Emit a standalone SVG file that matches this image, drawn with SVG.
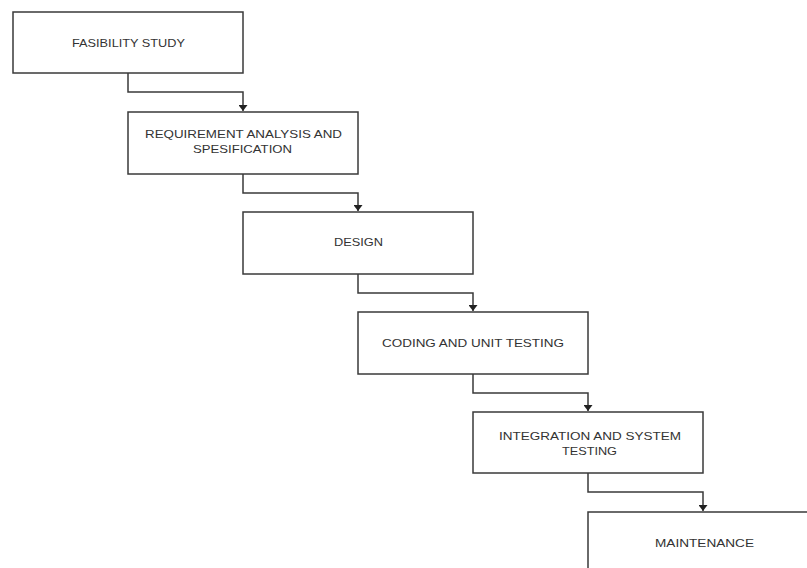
<svg xmlns="http://www.w3.org/2000/svg" width="807" height="568" viewBox="0 0 807 568">
  <style>
    .box { fill: #ffffff; stroke: #3a3a3a; stroke-width: 1.5; }
    .lbl { font-family: "Liberation Sans", Arial, sans-serif; font-size: 11.5px; fill: #333333; text-anchor: middle; }
    .conn { fill: none; stroke: #3a3a3a; stroke-width: 1.5; }
  </style>
  <defs>
    <marker id="arrow" viewBox="0 0 6 9" refX="6" refY="4.5" markerWidth="6" markerHeight="9" markerUnits="userSpaceOnUse" orient="auto">
      <path d="M0,0 L6,4.5 L0,9 Z" fill="#222222"/>
    </marker>
  </defs>
  <rect width="807" height="568" fill="#ffffff"/>

  <g id="connectors">
    <path class="conn" d="M128,73 V92 H243 V111" marker-end="url(#arrow)"/>
    <path class="conn" d="M243,174 V193 H358 V211" marker-end="url(#arrow)"/>
    <path class="conn" d="M358,274 V293 H473 V311" marker-end="url(#arrow)"/>
    <path class="conn" d="M473,374 V393 H588 V411" marker-end="url(#arrow)"/>
    <path class="conn" d="M588,473 V492 H703 V511" marker-end="url(#arrow)"/>
  </g>

  <g id="feasibility">
    <rect class="box" x="13" y="12" width="230" height="61"/>
    <text class="lbl" x="128.5" y="47" textLength="113" lengthAdjust="spacingAndGlyphs">FASIBILITY STUDY</text>
  </g>
  <g id="requirement">
    <rect class="box" x="128" y="112" width="230" height="62"/>
    <text class="lbl" x="243.5" y="138" textLength="197" lengthAdjust="spacingAndGlyphs">REQUIREMENT ANALYSIS AND</text>
    <text class="lbl" x="242.5" y="153" textLength="99" lengthAdjust="spacingAndGlyphs">SPESIFICATION</text>
  </g>
  <g id="design">
    <rect class="box" x="243" y="212" width="230" height="62"/>
    <text class="lbl" x="358.5" y="246" textLength="49" lengthAdjust="spacingAndGlyphs">DESIGN</text>
  </g>
  <g id="coding">
    <rect class="box" x="358" y="312" width="230" height="62"/>
    <text class="lbl" x="473" y="347" textLength="182" lengthAdjust="spacingAndGlyphs">CODING AND UNIT TESTING</text>
  </g>
  <g id="integration">
    <rect class="box" x="473" y="412" width="230" height="61"/>
    <text class="lbl" x="590" y="440" textLength="182" lengthAdjust="spacingAndGlyphs">INTEGRATION AND SYSTEM</text>
    <text class="lbl" x="589.5" y="455" textLength="55" lengthAdjust="spacingAndGlyphs">TESTING</text>
  </g>
  <g id="maintenance">
    <rect class="box" x="588" y="512" width="230" height="62"/>
    <text class="lbl" x="704.5" y="547" textLength="99" lengthAdjust="spacingAndGlyphs">MAINTENANCE</text>
  </g>
</svg>
